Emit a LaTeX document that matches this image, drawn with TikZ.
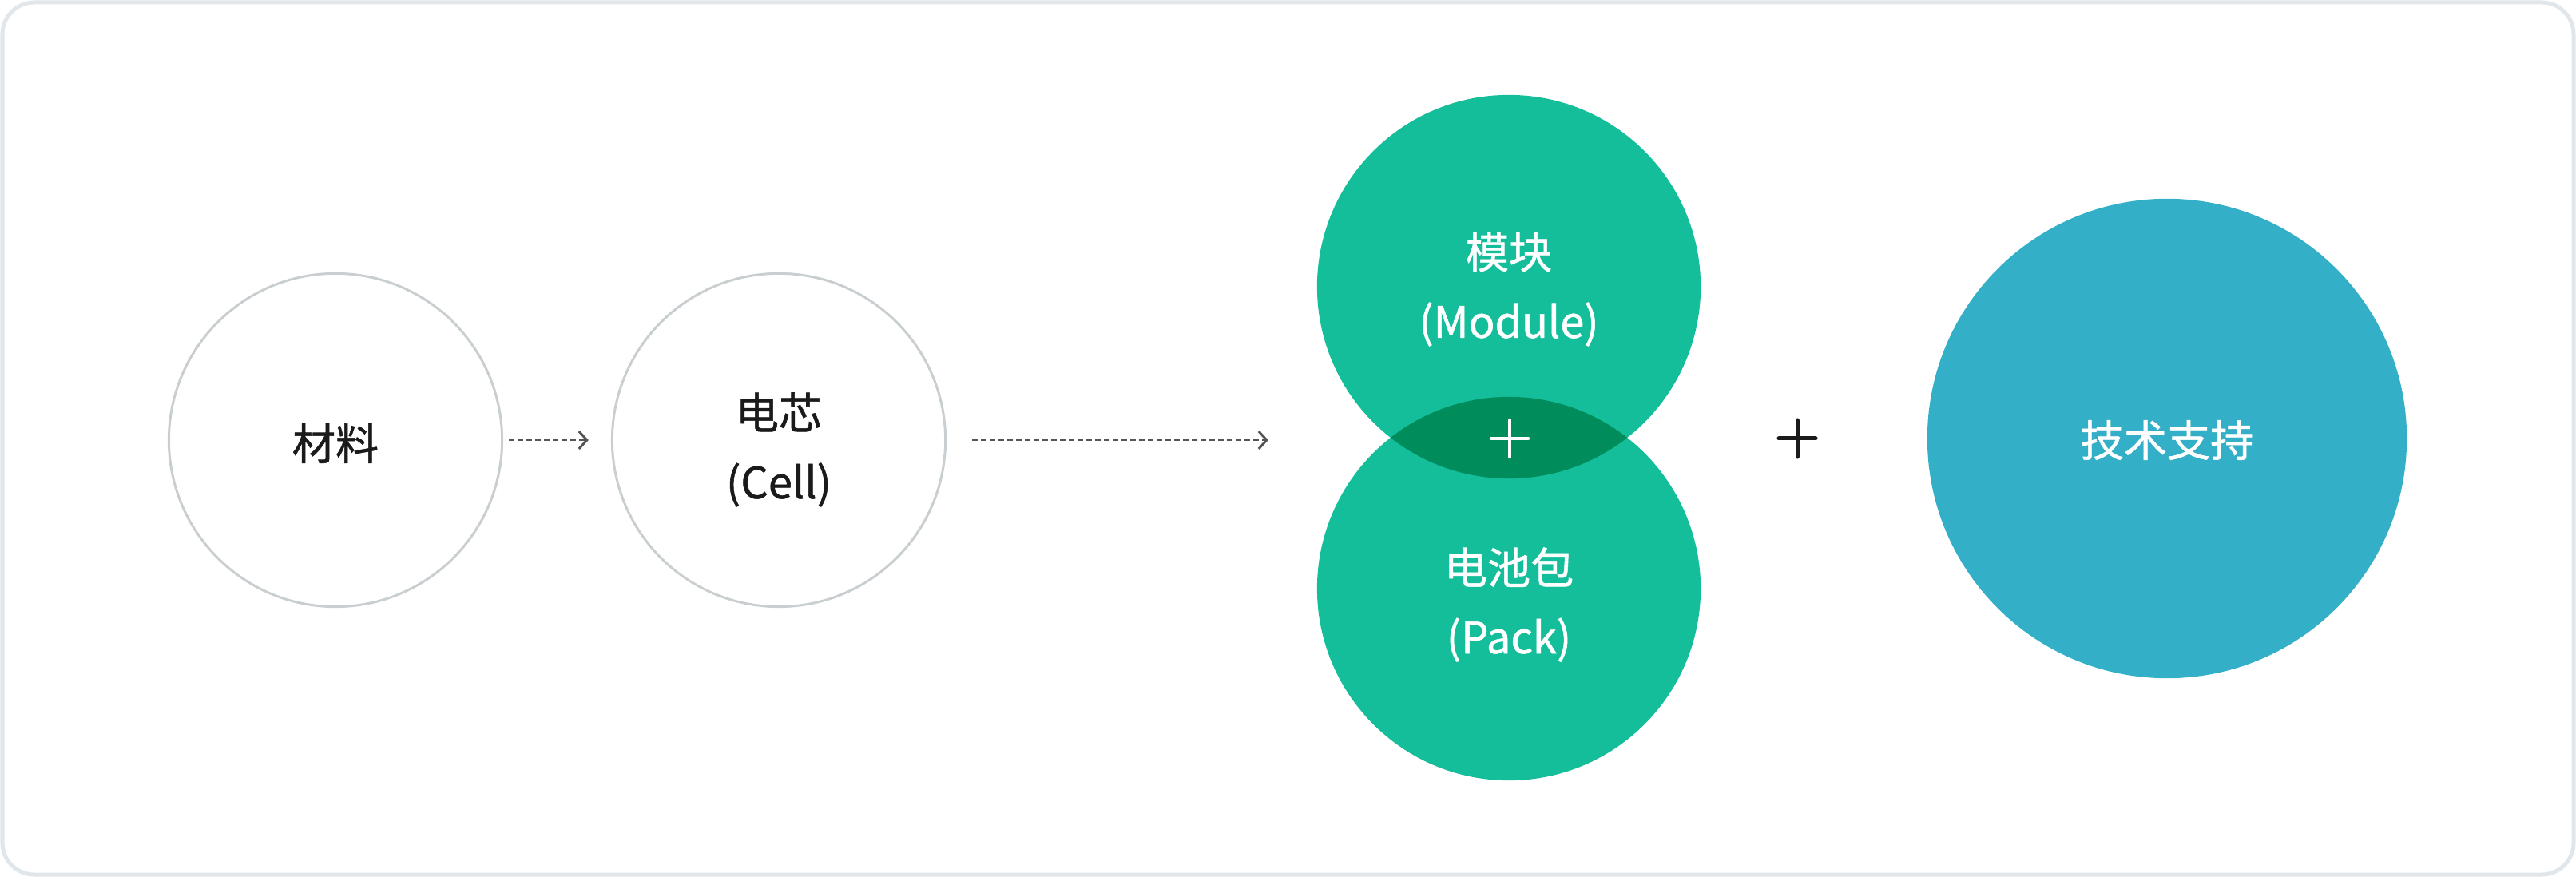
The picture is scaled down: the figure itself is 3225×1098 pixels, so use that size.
\documentclass[tikz,border=0pt]{standalone}
\usepackage{fontspec}
\setmainfont{Noto Sans CJK SC}[FakeBold=1]
\usetikzlibrary{arrows.meta, positioning}

\definecolor{framegray}{HTML}{E1E6EA}
\definecolor{ringgray}{HTML}{C9CED1}
\definecolor{dashgray}{HTML}{555555}
\definecolor{modgreen}{HTML}{14BE9A}
\definecolor{lensgreen}{HTML}{008C5B}
\definecolor{techblue}{HTML}{33AFC7}
\definecolor{inkblack}{HTML}{1A1A1A}

\tikzset{
  stage/.style={circle, draw=ringgray, line width=0.03cm, minimum size=4.17cm, inner sep=0pt},
  greendisc/.style={circle, fill=modgreen, minimum size=4.8cm, inner sep=0pt},
  bluedisc/.style={circle, fill=techblue, minimum size=6cm, inner sep=0pt},
  caption/.style={align=center, inner sep=0pt, font=\fontsize{15.4pt}{24.7pt}\selectfont},
  flow/.style={dashgray, line width=0.03cm, dash pattern=on 0.065cm off 0.045cm,
    -{Straight Barb[length=0.1cm, width=0.22cm]}},
  cross/.style={line width=0.045cm, line cap=round}
}

\begin{document}
\begin{tikzpicture}[x=0.01cm, y=-0.01cm]
  \useasboundingbox (0,0) rectangle (3225,1098);
  \draw[framegray, line width=0.05cm, rounded corners=0.4cm] (3,3) rectangle (3222,1095);

  %Define nodes
  \node[stage] (raw) at (420,551) {};
  \node[stage] (cell) at (975,551) {};
  \node[greendisc] (module) at (1889,359) {};
  \node[greendisc] (pack) at (1889,737) {};
  \node[bluedisc] (tech) at (2713,549) {};
  \coordinate (stack) at (1889,551);

  % Overlap of module and pack
  \begin{scope}
    \clip (module.center) circle (2.4cm);
    \fill[lensgreen] (pack.center) circle (2.4cm);
  \end{scope}

  % Texts
  \node[caption, text=inkblack] (raw-text) at (420,555) {材料};
  \node[caption, text=inkblack] (cell-text) at (975,563) {电芯\\(Cell)};
  \node[caption, text=white] (module-text) at (1889,362) {模块\\(Module)};
  \node[caption, text=white] (pack-text) at (1889,757) {电池包\\(Pack)};
  \node[caption, text=white] (tech-text) at (2713,551) {技术支持};

  % Connect the nodes
  \draw[flow, shorten <=0.07cm, shorten >=0.28cm] (raw) -- (cell);
  \draw[flow, shorten <=0.32cm, shorten >=3.01cm] (cell) -- (stack);

  % Plus signs
  \coordinate (join) at (1890,549);
  \coordinate (plus) at (2250,549);
  \draw[cross, white] ([xshift=-0.23cm]join) -- ([xshift=0.23cm]join)
    ([yshift=-0.23cm]join) -- ([yshift=0.23cm]join);
  \draw[cross, inkblack, line width=0.05cm] ([xshift=-0.23cm]plus) -- ([xshift=0.23cm]plus)
    ([yshift=-0.23cm]plus) -- ([yshift=0.23cm]plus);
\end{tikzpicture}
\end{document}
